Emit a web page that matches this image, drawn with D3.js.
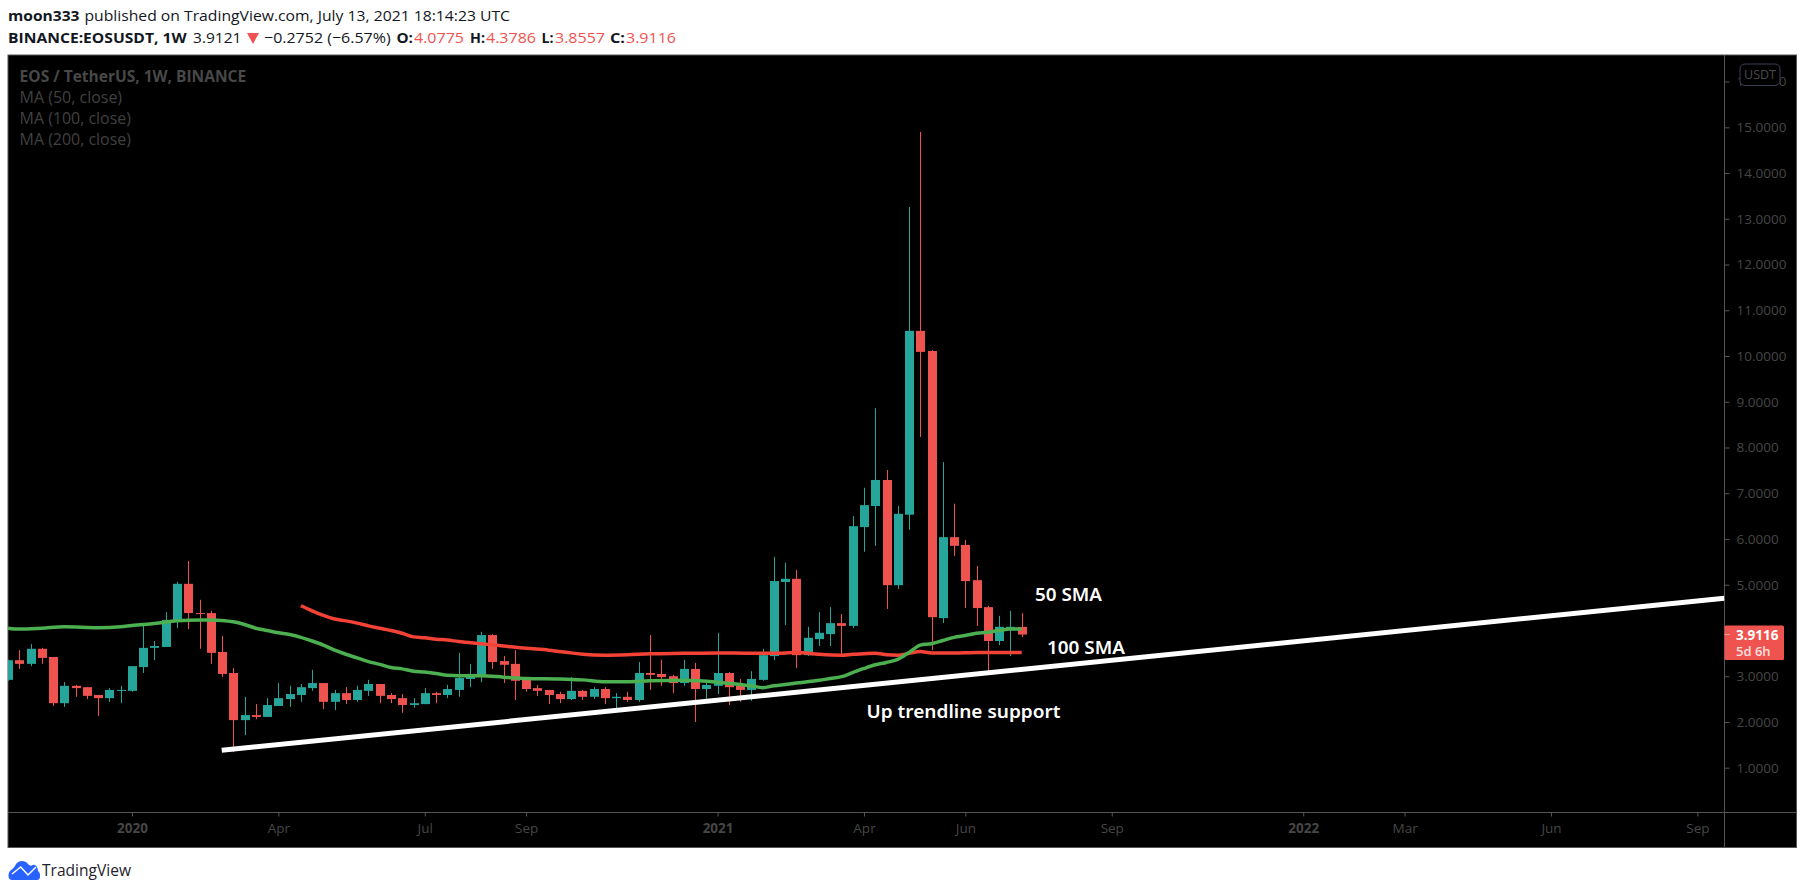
<!DOCTYPE html>
<html>
<head>
<meta charset="utf-8">
<script src="https://cdn.jsdelivr.net/npm/d3@7"></script>
<style>
body { margin: 0; background: #fff; }
text { font-family: "Open Sans", "Noto Sans", sans-serif; }
</style>
</head>
<body>
<div class="canva"></div>
<script>
// weekly candles
const opens = [2.92,3.35,3.27,3.60,3.42,2.41,2.79,2.76,2.59,2.52,
  2.68,2.68,3.20,3.62,3.64,4.21,5.02,4.38,4.38,3.53,
  3.07,2.04,2.15,2.11,2.35,2.50,2.59,2.74,2.85,2.44,
  2.63,2.48,2.68,2.83,2.59,2.52,2.37,2.39,2.63,2.59,
  2.70,2.94,3.03,3.90,3.33,3.27,2.92,2.74,2.70,2.61,
  2.50,2.68,2.55,2.72,2.52,2.55,2.48,3.07,3.05,3.00,
  2.85,3.16,2.72,2.79,3.07,2.79,2.70,2.92,3.44,5.06,
  5.13,3.46,3.81,3.92,4.16,4.10,6.26,6.72,7.29,4.99,
  6.53,10.55,10.11,4.27,6.04,5.87,5.10,4.51,3.77,4.05,4.0775];
const highs = [3.36,3.57,3.70,3.62,3.42,2.87,2.81,2.76,2.59,2.74,
  2.79,3.22,4.10,3.77,4.40,5.06,5.52,4.67,4.43,3.88,
  3.18,2.55,2.39,2.52,2.85,2.79,2.83,3.14,2.85,2.70,
  2.76,2.79,2.92,2.83,2.63,2.61,2.52,2.74,2.66,2.81,
  3.51,3.27,3.97,3.92,3.44,3.57,2.96,2.81,2.70,2.66,
  2.98,2.70,2.76,2.76,2.63,2.66,3.31,3.90,3.36,3.03,
  3.36,3.29,2.92,3.95,3.09,2.94,3.11,3.60,5.61,5.48,
  5.32,4.08,4.40,4.51,4.36,6.50,7.12,8.86,7.51,6.72,
  13.26,14.90,10.13,7.68,6.77,5.98,5.41,4.54,4.32,4.43,4.3786];
const lows = [2.90,3.16,3.22,3.27,2.35,2.33,2.55,2.50,2.13,2.44,
  2.41,2.66,3.07,3.35,3.64,4.05,4.03,3.60,3.27,2.98,
  1.34,1.71,2.06,2.11,2.35,2.33,2.44,2.68,2.28,2.26,
  2.39,2.44,2.57,2.41,2.41,2.20,2.31,2.39,2.41,2.52,
  2.55,2.76,2.87,3.16,2.85,2.48,2.66,2.57,2.39,2.41,
  2.48,2.48,2.50,2.39,2.22,2.44,2.44,2.70,2.79,2.63,
  2.79,2.00,2.50,2.61,2.37,2.44,2.46,2.90,3.35,4.12,
  3.18,3.44,3.66,3.66,3.44,4.05,5.72,5.85,4.47,4.91,
  6.20,8.23,3.57,4.16,5.63,4.49,4.10,3.03,3.68,3.44,3.8557];
const closes = [3.35,3.27,3.60,3.40,2.41,2.79,2.74,2.57,2.52,2.70,
  2.70,3.22,3.62,3.66,4.23,5.02,4.38,4.36,3.51,3.05,
  2.04,2.15,2.11,2.37,2.52,2.61,2.76,2.85,2.44,2.63,
  2.48,2.70,2.83,2.57,2.50,2.37,2.41,2.63,2.59,2.72,
  2.96,3.05,3.90,3.31,3.25,2.90,2.72,2.68,2.59,2.50,
  2.68,2.55,2.72,2.52,2.55,2.48,3.07,3.03,2.98,2.85,
  3.16,2.72,2.81,3.07,2.76,2.70,2.94,3.46,5.08,5.13,
  3.46,3.84,3.95,4.16,4.10,6.28,6.74,7.29,4.99,6.55,
  10.55,10.09,4.29,6.04,5.85,5.08,4.49,3.77,4.08,4.08,3.9116];

// moving averages, knots read at these candle numbers
const ma50Index = [0,1,3,5,8,10,11,13,15,17,18,19,20,21,22,23,24,25,26,27,28,29,30,31,32,33,34,35,
  36,37,38,39,40,42,44,46,49,51,53,55,57,60,63,65,66,67,68,69,70,71,72,73,74,75,76,77,78,79,80,81,82,83,84,85,86,87,88,89,90];
const ma50Values = [4.05,4.03,4.05,4.08,4.06,4.08,4.11,4.15,4.21,4.23,4.23,4.22,4.19,4.13,4.05,4.00,3.95,3.91,3.85,3.77,3.68,3.57,3.48,3.40,3.32,3.26,3.19,3.16,
  3.11,3.09,3.06,3.02,3.01,3.01,2.98,2.95,2.94,2.92,2.88,2.88,2.90,2.91,2.87,2.82,2.79,2.75,2.79,2.82,2.85,2.88,2.91,2.95,2.99,3.08,3.17,3.25,3.30,3.37,3.52,3.68,3.71,3.78,3.85,3.89,3.94,3.96,4.00,4.03,4.03];
const ma100Index = [26,27,28,29,30,31,32,33,34,35,36,37,38,39,40,42,44,46,48,50,51,53,55,57,60,63,66,68,70,72,74,75,76,77,78,79,80,81,82,84,86,90];
const ma100Values = [4.54,4.43,4.33,4.25,4.21,4.16,4.10,4.05,4.00,3.94,3.86,3.84,3.81,3.79,3.76,3.71,3.66,3.61,3.57,3.51,3.48,3.46,3.47,3.49,3.50,3.51,3.50,3.50,3.52,3.48,3.46,3.48,3.49,3.50,3.47,3.46,3.50,3.54,3.51,3.51,3.52,3.52];

// trendline drawn on the chart: candle number, price
const trendIndex = [18.97, 152.39];
const trendValues = [1.38, 4.704];

// 4.0000 sits behind the last price tag in the reference, so it is not listed
const priceTicks = [1,2,3,5,6,7,8,9,10,11,12,13,14,15,16];
const timeTicks = [11,24,37,46,63,76,85,98,115,124,137,150];
const timeLabels = ["2020","Apr","Jul","Sep","2021","Apr","Jun","Sep","2022","Mar","Jun","Sep"];
const lastPrice = 3.9116;

const cUp = "#26a69a", cDown = "#ef5350", cAxis = "#555", cDim = "#464646";

const frame = {left: 8, top: 55, right: 1796.5, bottom: 847.5, axisX: 1724.5, axisY: 812.5};

const x = d3.scaleLinear().domain([0, 152.39]).range([8.07, 1724.3]);
const y = d3.scaleLinear().domain([1, 15]).range([767.7, 127.3]);

const svg = d3.select(".canva").append("svg")
  .attr("width", 1805).attr("height", 894)
  .style("display", "block");

svg.append("defs").append("clipPath").attr("id", "plot").append("rect")
  .attr("x", frame.left).attr("y", frame.top)
  .attr("width", frame.axisX - frame.left).attr("height", frame.axisY - frame.top);

// header
const header = [
  {t: "moon333", x: 8, w: 71.5, y: 21, bold: 1},
  {t: "published on TradingView.com, July 13, 2021 18:14:23 UTC", x: 84.4, w: 425.6, y: 21},
  {t: "BINANCE:EOSUSDT, 1W", x: 8, w: 178.6, y: 43, bold: 1},
  {t: "3.9121", x: 193, w: 48.5, y: 43},
  {t: "\u22120.2752 (\u22126.57%)", x: 264, w: 126.6, y: 43},
  {t: "O:", x: 396.4, w: 16.5, y: 43, bold: 1},
  {t: "4.0775", x: 414, w: 50, y: 43, red: 1},
  {t: "H:", x: 470, w: 15, y: 43, bold: 1},
  {t: "4.3786", x: 486, w: 50, y: 43, red: 1},
  {t: "L:", x: 541.5, w: 12, y: 43, bold: 1},
  {t: "3.8557", x: 555, w: 50, y: 43, red: 1},
  {t: "C:", x: 610, w: 15, y: 43, bold: 1},
  {t: "3.9116", x: 626, w: 50, y: 43, red: 1}
];
svg.append("g").selectAll("text").data(header).join("text")
  .attr("x", d => d.x).attr("y", d => d.y)
  .attr("textLength", d => d.w).attr("lengthAdjust", "spacingAndGlyphs")
  .attr("font-size", 15)
  .attr("font-weight", d => d.bold ? 700 : 400)
  .attr("fill", d => d.red ? cDown : "#131722")
  .text(d => d.t);
svg.append("path").attr("d", "M247,33 L259,33 L253,44 Z").attr("fill", cDown);

// black panel
svg.append("rect")
  .attr("x", frame.left).attr("y", frame.top)
  .attr("width", frame.right - frame.left).attr("height", frame.bottom - frame.top)
  .attr("fill", "#000").attr("stroke", cAxis).attr("stroke-width", 1);

// legend
const legend = [
  {t: "EOS / TetherUS, 1W, BINANCE", y: 82, bold: 1, w: 226.5},
  {t: "MA (50, close)", y: 103, w: 102.5},
  {t: "MA (100, close)", y: 124, w: 111.3},
  {t: "MA (200, close)", y: 145, w: 111.3}
];
svg.append("g").selectAll("text").data(legend).join("text")
  .attr("x", 19.6).attr("y", d => d.y)
  .attr("textLength", d => d.w).attr("lengthAdjust", "spacingAndGlyphs")
  .attr("font-size", 15.5)
  .attr("font-weight", d => d.bold ? 700 : 400)
  .attr("fill", d => d.bold ? "#484848" : "#404040")
  .text(d => d.t);

// axes
const priceAxis = d3.axisRight(y).tickValues(priceTicks).tickSize(5).tickPadding(7)
  .tickFormat(d3.format(".4f"));
const gy = svg.append("g").attr("transform", `translate(${frame.axisX},0)`).call(priceAxis);
gy.select(".domain").remove();
gy.selectAll(".tick line").attr("stroke", cAxis);
gy.selectAll(".tick text").attr("fill", cDim).attr("font-size", 13.5)
  .style("font-family", "'Open Sans', sans-serif");

const timeAxis = d3.axisBottom(x).tickValues(timeTicks).tickSize(4).tickPadding(7)
  .tickFormat((d, i) => timeLabels[i]);
const gx = svg.append("g").attr("transform", `translate(0,${frame.axisY})`).call(timeAxis);
gx.select(".domain").remove();
gx.selectAll(".tick line").attr("stroke", cAxis);
gx.selectAll(".tick text").attr("fill", cDim).attr("font-size", 13.5)
  .attr("font-weight", (d, i) => /^20/.test(timeLabels[i]) ? 700 : 400)
  .style("font-family", "'Open Sans', sans-serif");

svg.append("line").attr("x1", frame.left).attr("x2", frame.right)
  .attr("y1", frame.axisY).attr("y2", frame.axisY).attr("stroke", cAxis);
svg.append("line").attr("x1", frame.axisX).attr("x2", frame.axisX)
  .attr("y1", frame.top).attr("y2", frame.bottom).attr("stroke", cAxis);

// candles
const plot = svg.append("g").attr("clip-path", "url(#plot)");
const candles = closes.map((c, i) => ({i, o: opens[i], h: highs[i], l: lows[i], c}));
const bodyW = 9;

plot.append("g").selectAll("line").data(candles).join("line")
  .attr("x1", d => Math.round(x(d.i)) + 0.5).attr("x2", d => Math.round(x(d.i)) + 0.5)
  .attr("y1", d => y(d.h)).attr("y2", d => y(d.l))
  .attr("stroke", d => d.c >= d.o ? cUp : cDown).attr("stroke-width", 1);

plot.append("g").selectAll("rect").data(candles).join("rect")
  .attr("x", d => Math.round(x(d.i)) + 0.5 - bodyW / 2)
  .attr("width", bodyW)
  .attr("y", d => y(Math.max(d.o, d.c)))
  .attr("height", d => Math.max(1, Math.abs(y(d.o) - y(d.c))))
  .attr("fill", d => d.c >= d.o ? cUp : cDown);

// moving averages
const line = d3.line().x(d => x(d[0])).y(d => y(d[1])).curve(d3.curveMonotoneX);
plot.append("path").attr("d", line(d3.zip(ma100Index, ma100Values)))
  .attr("fill", "none").attr("stroke", "#f44336").attr("stroke-width", 3.5);
plot.append("path").attr("d", line(d3.zip(ma50Index, ma50Values)))
  .attr("fill", "none").attr("stroke", "#4caf50").attr("stroke-width", 3.5);

// trendline
plot.append("line")
  .attr("x1", x(trendIndex[0])).attr("y1", y(trendValues[0]))
  .attr("x2", x(trendIndex[1])).attr("y2", y(trendValues[1]))
  .attr("stroke", "#fff").attr("stroke-width", 5);

// notes on the chart
const notes = [
  {t: "50 SMA", x: 1035, y: 601, w: 67},
  {t: "100 SMA", x: 1047, y: 654, w: 78},
  {t: "Up trendline support", x: 866.5, y: 718, w: 194}
];
svg.append("g").selectAll("text").data(notes).join("text")
  .attr("x", d => d.x).attr("y", d => d.y)
  .attr("textLength", d => d.w).attr("lengthAdjust", "spacingAndGlyphs")
  .attr("font-size", 18).attr("font-weight", 600).attr("fill", "#fff")
  .style("font-family", "'Noto Sans', sans-serif")
  .text(d => d.t);

// last price tag
const tagY = y(lastPrice);
svg.append("rect").attr("x", frame.axisX).attr("y", tagY - 9).attr("width", 59.5).attr("height", 34.5)
  .attr("rx", 1.5).attr("fill", cDown);
svg.append("line").attr("x1", frame.axisX).attr("x2", frame.axisX + 5)
  .attr("y1", tagY).attr("y2", tagY).attr("stroke", "#f7a5a3");
svg.append("text").attr("x", 1736).attr("y", tagY + 5).attr("font-size", 13.5).attr("font-weight", 700)
  .attr("fill", "#fff").text(d3.format(".4f")(lastPrice));
svg.append("text").attr("x", 1736).attr("y", tagY + 21).attr("font-size", 13).attr("font-weight", 600)
  .attr("fill", "#fde0df").text("5d 6h");

// currency badge
svg.append("rect").attr("x", 1740).attr("y", 64).attr("width", 40).attr("height", 21.5).attr("rx", 5)
  .attr("fill", "#000").attr("stroke", "#3a4150");
svg.append("text").attr("x", 1760).attr("y", 79).attr("text-anchor", "middle")
  .attr("font-size", 12.5).attr("fill", "#4a4a4a").text("USDT");

// logo
svg.append("path")
  .attr("d", "M12,880 C8,880 7.5,874 10,871 C12,869 14,868 15,866 C17,861 24,859 28,864 C30,866 31,866 33,865 C36,864 38,868 38,871 C41,873 41,880 37,880 Z")
  .attr("fill", "#2962ff");
svg.append("path").attr("d", "M12,874 L20.7,867 L28,875 L36,867")
  .attr("fill", "none").attr("stroke", "#fff").attr("stroke-width", 1.5);
svg.append("text").attr("x", 42).attr("y", 876).attr("textLength", 89).attr("lengthAdjust", "spacingAndGlyphs")
  .attr("font-size", 16.5).attr("fill", "#1e222d").text("TradingView");
</script>
</body>
</html>
